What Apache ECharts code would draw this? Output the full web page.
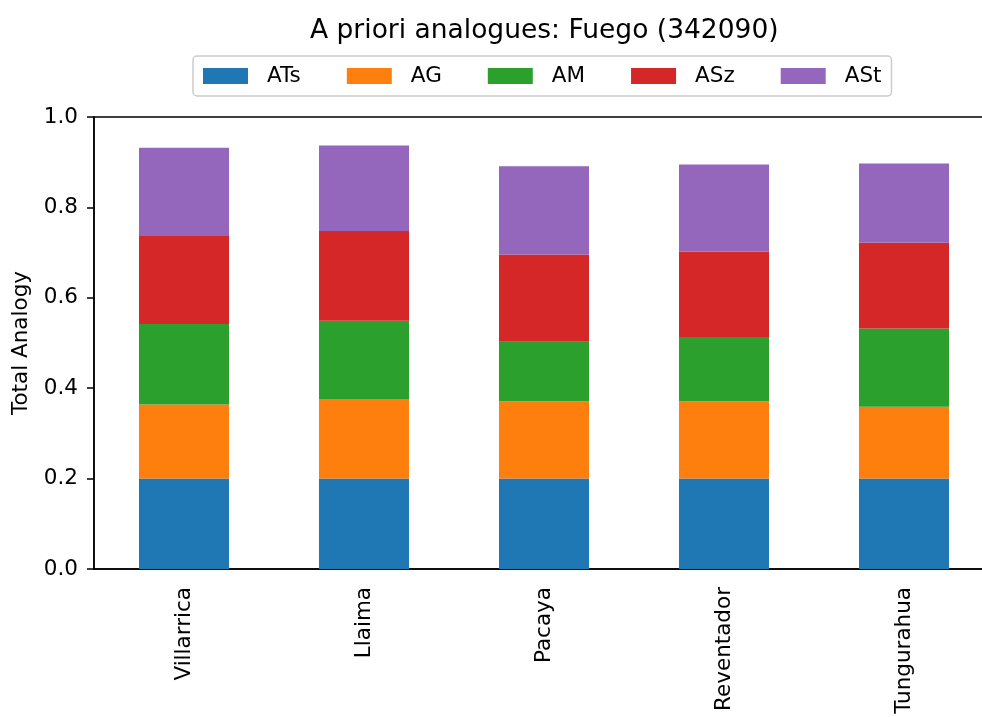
<!DOCTYPE html>
<html>
<head>
<meta charset="utf-8">
<script src="https://cdn.jsdelivr.net/npm/echarts@6/dist/echarts.min.js"></script>
<style>html,body{margin:0;padding:0;background:#fff;overflow:hidden}#c{width:1000px;height:717px}</style>
</head>
<body>
<div id="c"></div>
<script>
const categories = ["Villarrica", "Llaima", "Pacaya", "Reventador", "Tungurahua"];
const seriesNames = ["ATs", "AG", "AM", "ASz", "ASt"];
const ATs = [0.200, 0.200, 0.200, 0.200, 0.200];
const AG  = [0.164, 0.176, 0.171, 0.171, 0.159];
const AM  = [0.178, 0.173, 0.132, 0.142, 0.173];
const ASz = [0.195, 0.199, 0.193, 0.189, 0.190];
const ASt = [0.195, 0.189, 0.195, 0.193, 0.175];
const yTicks = [0.0, 0.2, 0.4, 0.6, 0.8, 1.0];
const colors = ["#1f77b4", "#ff7f0e", "#2ca02c", "#d62728", "#9467bd"];

const values = [ATs, AG, AM, ASz, ASt];
const font = "DejaVu Sans";
const fs = 21.5;
const chart = echarts.init(document.getElementById('c'));
chart.setOption({
  animation: false,
  title: {
    text: "A priori analogues: Fuego (342090)",
    left: 305, top: 13,
    textStyle: {fontFamily: font, fontSize: 26.5, fontWeight: 'normal', color: '#000'}
  },
  legend: {
    data: seriesNames,
    left: 193, top: 56,
    padding: [9, 10, 9, 10],
    borderColor: '#cccccc', borderWidth: 1.5, borderRadius: 4,
    itemWidth: 45, itemHeight: 16, itemGap: 46,
    icon: 'rect',
    textStyle: {fontFamily: font, fontSize: fs, color: '#000', padding: [0, 0, 0, 14]}
  },
  grid: {
    left: 94, top: 117, width: 900, height: 452,
    show: true, borderColor: '#000', borderWidth: 1.5, backgroundColor: 'transparent'
  },
  xAxis: {
    type: 'category', data: categories,
    axisLine: {lineStyle: {color: '#000', width: 1.5}},
    axisTick: {alignWithLabel: true, length: 7, lineStyle: {color: '#000', width: 1.5}},
    axisLabel: {rotate: 90, margin: 18, fontFamily: font, fontSize: fs, color: '#000'}
  },
  yAxis: {
    type: 'value', min: 0, max: 1, interval: 0.2,
    name: 'Total Analogy', nameLocation: 'middle', nameGap: 60, nameRotate: 90,
    nameTextStyle: {fontFamily: font, fontSize: fs, color: '#000'},
    splitLine: {show: false},
    axisLine: {show: true, lineStyle: {color: '#000', width: 1.5}},
    axisTick: {show: true, length: 7, lineStyle: {color: '#000', width: 1.5}},
    axisLabel: {margin: 16, fontFamily: font, fontSize: fs, color: '#000',
      formatter: v => (yTicks.find(t => Math.abs(t - v) < 1e-9) ?? v).toFixed(1)}
  },
  series: seriesNames.map((n, i) => ({
    name: n, type: 'bar', stack: 'total', data: values[i],
    barWidth: '50%', itemStyle: {color: colors[i]}
  }))
});
</script>
</body>
</html>
